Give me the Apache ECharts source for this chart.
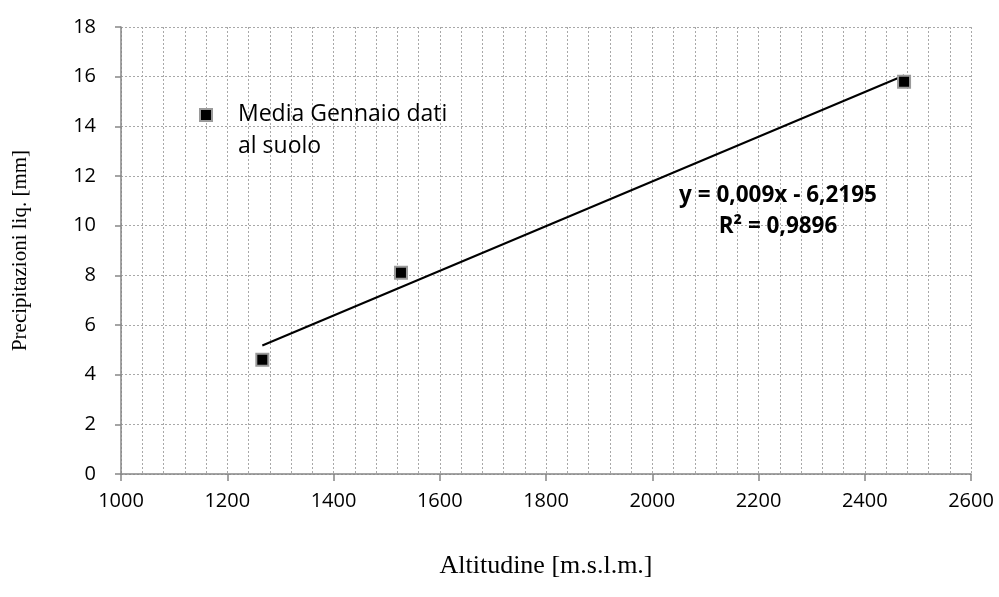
<!DOCTYPE html>
<html>
<head>
<meta charset="utf-8">
<script src="https://cdn.jsdelivr.net/npm/echarts@6/dist/echarts.min.js"></script>
<style>
  html, body { margin: 0; padding: 0; background: #fff; }
  #chart { width: 999px; height: 597px; }
</style>
</head>
<body>
<div id="chart"></div>
<script>
// Observed January averages (ground stations)
const altitudes = [1266, 1527, 2474];
const precipitation = [4.6, 8.1, 15.8];
const seriesName = 'Media Gennaio dati';
const legendLines = ['Media Gennaio dati', 'al suolo'];

// Linear trend coefficients, as printed in the equation label
const trendSlope = 0.009;
const trendIntercept = -6.2195;
const trendLabel = ['y = 0,009x - 6,2195', 'R² = 0,9896'];

const xTitle = 'Altitudine [m.s.l.m.]';
const yTitle = 'Precipitazioni liq. [mm]';

const xMin = Math.min(...altitudes), xMax = Math.max(...altitudes);
const trendLine = [
  [xMin, trendSlope * xMin + trendIntercept],
  [xMax, trendSlope * xMax + trendIntercept]
];

const tickFont = { fontFamily: 'Open Sans', fontSize: 20, color: '#000' };
const gridGray = '#a8a8a8';
const axisGray = '#868686';
const markerStyle = { color: '#000', borderColor: '#9a9a9a', borderWidth: 2, opacity: 1 };

const chart = echarts.init(document.getElementById('chart'), null, { renderer: 'canvas' });
chart.setOption({
  animation: false,
  backgroundColor: '#fff',
  grid: { left: 121, right: 28, top: 27, bottom: 123 },
  xAxis: {
    type: 'value', min: 1000, max: 2600, interval: 200,
    name: xTitle, nameLocation: 'middle', nameGap: 79,
    nameTextStyle: { fontFamily: 'Liberation Serif', fontSize: 26, color: '#000' },
    axisLine: { show: true, onZero: false, lineStyle: { color: axisGray, width: 1.5 } },
    axisTick: { show: true, length: 7, lineStyle: { color: axisGray, width: 1.5 } },
    axisLabel: Object.assign({ margin: 17, formatter: v => String(v) }, tickFont),
    splitLine: { show: true, lineStyle: { color: gridGray, type: [2, 2], width: 1 } },
    minorTick: { show: false, splitNumber: 5 },
    minorSplitLine: { show: true, lineStyle: { color: gridGray, type: [2, 2], width: 1 } }
  },
  yAxis: {
    type: 'value', min: 0, max: 18, interval: 2,
    name: yTitle, nameLocation: 'middle', nameGap: 90, nameRotate: 90,
    nameTextStyle: { fontFamily: 'Liberation Serif', fontSize: 21, color: '#000' },
    axisLine: { show: true, onZero: false, lineStyle: { color: axisGray, width: 1.5 } },
    axisTick: { show: true, length: 6, lineStyle: { color: axisGray, width: 1.5 } },
    axisLabel: Object.assign({ margin: 25 }, tickFont),
    splitLine: { show: true, lineStyle: { color: gridGray, type: [2, 2], width: 1 } }
  },
  series: [
    {
      name: 'trend', type: 'line', data: trendLine, symbol: 'none',
      lineStyle: { color: '#000', width: 2 }, silent: true, z: 2
    },
    {
      name: seriesName, type: 'scatter',
      data: altitudes.map((a, i) => [a, precipitation[i]]),
      symbol: 'rect', symbolSize: 12,
      itemStyle: markerStyle,
      z: 3
    }
  ],
  graphic: [
    // legend box: marker swatch and two-line series label
    {
      type: 'rect', z: 10,
      shape: { x: 200, y: 109, width: 12, height: 12 },
      style: { fill: markerStyle.color, stroke: markerStyle.borderColor, lineWidth: 2 }
    },
    {
      type: 'text', x: 238, y: 98, z: 10,
      style: {
        text: legendLines.join('\n'), align: 'left', verticalAlign: 'top',
        fontFamily: 'Open Sans', fontSize: 23, lineHeight: 32, fill: '#000'
      }
    },
    // trend equation
    {
      type: 'text', x: 778, y: 180, z: 10,
      style: {
        text: trendLabel.join('\n'), align: 'center', verticalAlign: 'top',
        fontFamily: 'Open Sans', fontWeight: 'bold', fontSize: 22.5, lineHeight: 31, fill: '#000'
      }
    }
  ]
});
</script>
</body>
</html>
